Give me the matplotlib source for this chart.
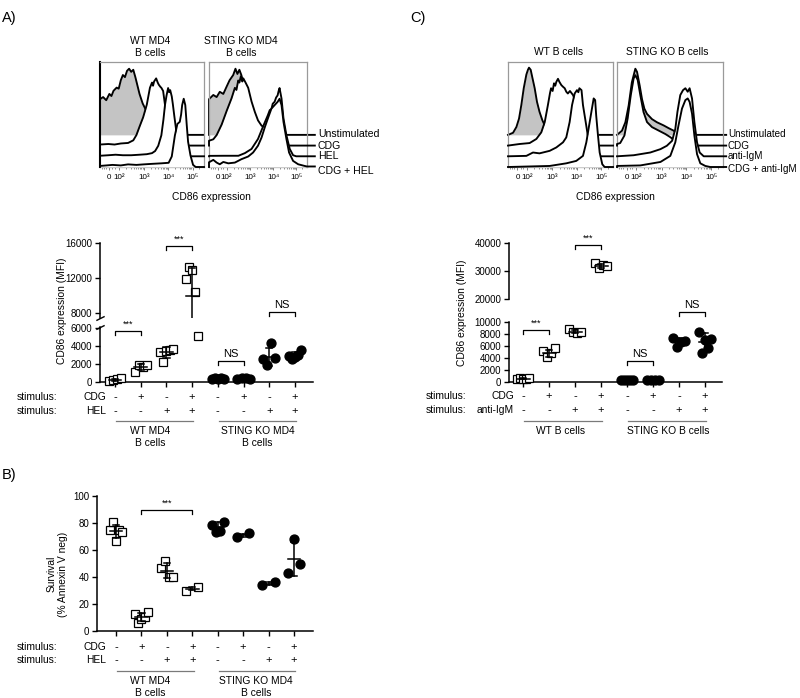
import numpy as np
import matplotlib.pyplot as plt
from matplotlib.transforms import blended_transform_factory

plt.rcParams['font.family'] = ['Liberation Sans', 'DejaVu Sans']

# ---------- flow histograms
# (x in % of box width, height above the curve's own baseline in % of box height)
a_wt_unstim = [(0, 34), (3, 36), (6, 33), (9, 39), (11, 37), (13, 42), (16, 45), (18, 44), (20, 52), (22, 57),
               (24, 55), (26, 61), (28, 63), (30, 60), (32, 62), (34, 55), (36, 47), (38, 39), (41, 30), (44, 24),
               (48, 14), (52, 6), (56, 1), (60, 0), (100, 0)]
a_wt_cdg = [(0, 1), (8, 1.5), (14, 1), (20, 2), (27, 2.5), (32, 5), (35, 10), (38, 18), (41.5, 27), (45, 39),
            (48, 55), (50, 60), (51, 57), (52, 61), (54, 64), (55.5, 60), (56.5, 58), (58, 56), (59, 55),
            (60.7, 52), (63, 35), (65.5, 23), (68, 15), (70, 10), (73.5, 5), (76.7, 2), (80, 0), (100, 0)]
a_wt_hel = [(0, 0.5), (8, 1), (15, 1.5), (22, 1), (30, 1), (38, 1.5), (45, 2), (50, 3), (53, 5), (56, 10),
            (59, 20), (61, 35), (62.5, 49), (64, 58), (65.5, 65), (66.5, 61), (67.5, 63), (69, 57), (70, 50),
            (71.5, 38), (73.5, 23), (75, 13), (76.7, 4), (79, 0.5), (82, 0), (100, 0)]
a_wt_cdghel = [(0, 1), (6, 1.5), (12, 2), (20, 1.5), (27, 2.5), (35, 2), (42, 2.5), (50, 3), (59, 3.5), (66, 4),
               (69, 10), (72, 30), (74.4, 41), (76.7, 43), (78, 50), (79, 59), (80.5, 65), (82, 59), (83.4, 40),
               (84.7, 24), (87, 11), (89.5, 2), (92, 0), (100, 0)]

a_ko_unstim = [(0, 34), (4.4, 38), (7.8, 36), (11, 41), (14.6, 39), (18, 46), (21, 52), (24.7, 57), (27, 63),
               (29, 58), (31, 62), (33, 57), (35, 50), (38, 41), (41, 31), (45, 19), (50, 9), (55, 2), (60, 0),
               (100, 0)]
a_ko_cdg = [(0, 4.6), (4.4, 6), (7.8, 10), (12.9, 20), (18, 33), (23, 45), (26.4, 55), (28, 53), (29.8, 62),
            (31, 60), (32.5, 66), (34, 61), (35, 64), (37.3, 60), (40, 55), (43.4, 42), (46.8, 32), (50, 24),
            (53.6, 19), (57, 17), (62, 12), (67, 6), (74, 2), (80.7, 0), (100, 0)]
a_ko_hel = [(0, 0.4), (15, 0.5), (30, 0.5), (36.6, 3), (43.4, 7), (50, 16.5), (55, 28), (60, 39), (62, 44),
            (63.7, 45), (65, 50), (67, 52), (68.5, 56), (70, 58), (71, 62), (72, 65), (73, 60), (74, 55),
            (76, 36), (79, 20), (82.4, 7), (85.8, 1), (89, 0), (100, 0)]
a_ko_cdghel = [(0, 4.5), (4.4, 6.8), (7.8, 4.2), (11, 2.6), (14.6, 4.8), (19.7, 3.5), (26.4, 4.2), (33, 7.4),
               (40, 10), (45, 13.8), (50, 20.3), (53.6, 28), (57, 38), (60, 46), (63.7, 55.6), (67, 59),
               (70, 62), (72, 65), (74, 59), (76, 43), (79, 26.7), (81.7, 13.8), (85.8, 5.8), (91, 2.6),
               (97.6, 1), (100, 0.5)]

c_wt_unstim = [(0, 0), (4.8, 2), (8, 7.5), (10.5, 15.5), (12.7, 28.5), (15, 44.5), (17.5, 57.5), (19, 62),
               (20, 64), (21.6, 62), (23, 55.5), (25.4, 44.5), (27.6, 31.5), (30, 22), (32.7, 14), (35, 9),
               (36.5, 5), (39.7, 2), (43, 0), (100, 0)]
c_wt_cdg = [(0, 0), (11, 1.5), (20.6, 2.4), (27, 6.3), (31.7, 12.6), (35, 22.4), (38, 38.6), (40, 50),
            (41, 54.6), (42.5, 52), (43.8, 59.3), (45, 57), (46, 60.6), (47.6, 63.6), (49, 60.6), (50.8, 57.6),
            (52.4, 56), (54, 54.6), (55.5, 51.3), (57, 49.6), (59, 52), (62, 48), (65, 40), (68, 25), (72, 8),
            (76, 0), (100, 0)]
c_wt_igm = [(0, 0), (17.5, 0.4), (23.8, 3.6), (30, 2.8), (39.7, 5.2), (46, 8.4), (52.4, 13.3), (55.5, 18),
            (58.7, 32.6), (61, 48.8), (63.5, 59.8), (65.7, 63), (67, 61), (68, 64.8), (70, 63), (71.4, 48.8),
            (74, 32.6), (76, 19.8), (78.4, 6.8), (81, 0.4), (84, 0), (100, 0)]
c_wt_cdgigm = [(0, 0), (20, 0.5), (39.7, 1), (55.5, 3.5), (65, 5.8), (71.4, 10.6), (74.6, 23.5), (77, 38),
               (79.4, 52.4), (81.6, 65.3), (83, 63.7), (84, 49), (85.7, 30), (87.3, 13.8), (89.8, 2.6),
               (92, 0), (100, 0)]

c_ko_unstim = [(0, 0), (4.7, 4), (7.9, 12), (11, 28), (14, 50), (17.3, 63), (18.9, 60), (21.4, 47),
               (23.6, 34), (25.8, 25), (28.3, 20), (33, 15), (37.7, 12), (44, 9), (48.7, 6.4), (53.5, 4),
               (56, 2), (60, 0), (100, 0)]
c_ko_cdg = [(0, 1.5), (3, 2.4), (7, 9.6), (10, 25.6), (13, 48), (15.7, 64), (17.3, 67), (19.5, 62.6),
            (22, 48), (25, 32), (28.3, 22.4), (33, 17.6), (39.3, 14.3), (45.6, 11), (50.3, 8), (56.6, 3),
            (61, 0), (100, 0)]
c_ko_igm = [(0, 0), (15.7, 1), (31.4, 3.6), (41, 6.8), (47, 10), (52, 14.8), (55, 26), (57, 42.2),
            (59.7, 58.3), (62.3, 63), (64.5, 64.8), (66.7, 61.5), (68.5, 64.8), (70.8, 55), (73, 32.6),
            (75.5, 13.3), (78, 3.6), (81.8, 0), (100, 0)]
c_ko_cdgigm = [(0, 1), (22, 1.5), (41, 4.8), (50.3, 10.6), (55, 23.5), (58, 39.5), (61.3, 55.6),
               (64.5, 63.7), (66.7, 65.3), (68.5, 62), (70.8, 50.8), (73, 30), (75.5, 12.2), (78.6, 3.5),
               (83.3, 1), (88, 0), (100, 0)]

decade_ticks = [9, 18, 42, 65.5, 89]
decade_labels = ['0', '10²', '10³', '10⁴', '10⁵']

# ---------- dot plots (groups 1-4 WT, 5-8 STING KO)
a_points = [[150, 250, 330, 400], [1150, 1900, 1700, 1900], [3300, 2200, 3400, 3550, 3700],
            [11850, 13300, 12950, 10400, 5150], [300, 400, 350, 450, 350], [350, 400, 420, 380],
            [2600, 1900, 4300, 2700], [2900, 2600, 2800, 3000, 3600]]
a_mean = [270, 1650, 3300, 10000, 380, 390, 2750, 2950]
a_sd = [110, 350, 600, 3100, 60, 30, 1000, 350]

b_points = [[75, 81, 67, 75, 73], [12.5, 6.2, 8.6, 10.5, 14.3], [47, 52, 40, 40], [30, 32.3],
            [78.5, 73.6, 74.3, 81], [70, 72.3], [34, 36], [42.7, 68, 49.6]]
b_mean = [74, 10.5, 44.7, 31.3, 77, 71, 35, 53.3]
b_sd = [4.8, 3.2, 5.5, 1.2, 3.5, 1.2, 1, 12.8]

c_points = [[500, 600, 450, 550, 650], [5200, 4200, 4800, 5600], [8800, 8400, 8100, 8300],
            [32700, 31000, 32200, 31800], [300, 350, 300, 320, 280], [300, 340, 320, 280],
            [7400, 5800, 6700, 6900], [8400, 4900, 7000, 5600, 7200]]
c_mean = [550, 4800, 8400, 31900, 310, 310, 6700, 6700]
c_sd = [80, 550, 300, 700, 30, 30, 650, 1400]

cdg_row = ['-', '+', '-', '+', '-', '+', '-', '+']
second_row = ['-', '-', '+', '+', '-', '-', '+', '+']

W, H = 800, 698
fig = plt.figure(figsize=(8, 6.98), dpi=100)


def add_ax(x0, y0, x1, y1):
    return fig.add_axes([x0 / W, 1 - y1 / H, (x1 - x0) / W, (y1 - y0) / H])


def ftext(x, y, s, **kw):
    fig.text(x / W, 1 - y / H, s, **kw)


offsets = [30.6, 20.4, 10.2, 0]
minor = []
for a, b in [(18, 42), (42, 65.5), (65.5, 89)]:
    minor += [a + (b - a) * np.log10(k) for k in range(2, 10)]
minor += [2, 4, 6, 12, 14, 95]


def hist_box(x0, x1, curves, ext=100, left_black=False):
    ax = add_ax(x0, 62, x1, 167)
    for i, (curve, base) in enumerate(zip(curves, offsets)):
        xs = [0] + [p[0] for p in curve]
        hs = [0] + [p[1] for p in curve]
        if ext > 100:
            xs.append(ext)
            hs.append(hs[-1])
        ys = [base + h for h in hs]
        ax.fill_between(xs, base, ys, color='#c4c4c4' if i == 0 else 'white', lw=0, zorder=2 * i + 1)
        ax.plot(xs, ys, color='black', lw=1.35, zorder=2 * i + 2, clip_on=False)
    ax.set_xlim(0, 100)
    ax.set_ylim(0, 100)
    for s in ax.spines.values():
        s.set_color('#9a9a9a')
        s.set_linewidth(0.9)
    if left_black:
        ax.spines['left'].set_color('black')
        ax.spines['left'].set_linewidth(1.5)
    ax.set_yticks([])
    ax.set_xticks(decade_ticks)
    ax.set_xticklabels(decade_labels)
    ax.set_xticks(minor, minor=True)
    ax.tick_params(axis='x', which='major', length=2, width=0.6, color='#666', labelsize=5.8, pad=3)
    ax.tick_params(axis='x', which='minor', length=1.2, width=0.5, color='#666')
    return ax


def style_dot(ax, ylim, yticks, xlim, bottom=True):
    ax.set_xlim(*xlim)
    ax.set_ylim(*ylim)
    ax.set_yticks(yticks)
    ax.spines['top'].set_visible(False)
    ax.spines['right'].set_visible(False)
    ax.spines['left'].set_linewidth(1.1)
    if bottom:
        ax.spines['bottom'].set_linewidth(1.1)
        ax.set_xticks(range(1, 9))
        ax.set_xticklabels([])
        ax.tick_params(axis='x', length=3.5, width=1)
    else:
        ax.spines['bottom'].set_visible(False)
        ax.set_xticks([])
    ax.tick_params(axis='y', length=3.5, width=1, labelsize=7, pad=2)


def draw_groups(axes, split, points, means, sds):
    for i, vals in enumerate(points):
        c = i + 1
        offs = np.linspace(-0.24, 0.24, len(vals))
        for v, o in zip(vals, offs):
            ax = axes[0] if (len(axes) == 1 or v <= split) else axes[1]
            if i < 4:
                ax.plot(c + o, v, 's', ms=5.8, mfc='white', mec='black', mew=0.9, clip_on=False, zorder=3)
            else:
                ax.plot(c + o, v, 'o', ms=6.4, mfc='black', mec='black', clip_on=False, zorder=3)
        m, s = means[i], sds[i]
        for ax in axes:
            ax.plot([c - 0.25, c + 0.25], [m, m], color='black', lw=1.1, zorder=4)
            ax.plot([c, c], [m - s, m + s], color='black', lw=1.1, zorder=4)
            ax.plot([c - 0.12, c + 0.12], [m + s, m + s], color='black', lw=1.1, zorder=4)
            ax.plot([c - 0.12, c + 0.12], [m - s, m - s], color='black', lw=1.1, zorder=4)


def bracket(ax, c1, c2, y, label, drop=4):
    d = ax.transData.transform([(c1, y)])[0]
    y_low = ax.transData.inverted().transform([(d[0], d[1] - drop)])[0][1]
    ax.plot([c1, c1, c2, c2], [y_low, y, y, y_low], color='black', lw=0.9, clip_on=False)
    ax.annotate(label, xy=((c1 + c2) / 2, y), xytext=(0, 1.5), textcoords='offset points',
                ha='center', va='bottom', fontsize=6.5 if label == '***' else 8, annotation_clip=False)


def stim_rows(ax, y1, y2, xlab, xname, name2, line_y, labels, label_x, label_y):
    tr = blended_transform_factory(ax.transData, fig.transFigure)
    ftext(xlab, y1, 'stimulus:', fontsize=7.4, va='center')
    ftext(xlab, y2, 'stimulus:', fontsize=7.4, va='center')
    ftext(xname, y1, 'CDG', fontsize=7.4, va='center', ha='right')
    ftext(xname, y2, name2, fontsize=7.4, va='center', ha='right')
    for i in range(8):
        ax.text(i + 1, 1 - y1 / H, cdg_row[i], transform=tr, ha='center', va='center', fontsize=8)
        ax.text(i + 1, 1 - y2 / H, second_row[i], transform=tr, ha='center', va='center', fontsize=8)
    for (c1, c2), lab, lx in zip([(1.05, 4.05), (5.05, 8.05)], labels, label_x):
        ax.plot([c1, c2], [1 - line_y / H] * 2, transform=tr, color='#7a7a7a', lw=0.9, clip_on=False)
        ax.text(lx, 1 - label_y / H, lab, transform=tr, ha='center', va='top', fontsize=7.4, linespacing=1.2)


# ---------- panel A histograms
hist_box(100, 204, [a_wt_unstim, a_wt_cdg, a_wt_hel, a_wt_cdghel], left_black=True)
axr = hist_box(209, 307, [a_ko_unstim, a_ko_cdg, a_ko_hel, a_ko_cdghel], ext=108)
for lab, yy in zip(['Unstimulated', 'CDG', 'HEL', 'CDG + HEL'], [31, 20.4, 10.2, -4]):
    axr.text(111, yy, lab, fontsize=7.6, va='center', clip_on=False)
ftext(150, 47, 'WT MD4\nB cells', fontsize=7.4, ha='center', va='center', linespacing=1.2)
ftext(241, 47, 'STING KO MD4\nB cells', fontsize=7.4, ha='center', va='center', linespacing=1.2)
ftext(211, 197, 'CD86 expression', fontsize=7.4, ha='center', va='center')

# ---------- panel C histograms
hist_box(508, 613, [c_wt_unstim, c_wt_cdg, c_wt_igm, c_wt_cdgigm])
axr = hist_box(617, 723, [c_ko_unstim, c_ko_cdg, c_ko_igm, c_ko_cdgigm], ext=103)
for lab, yy in zip(['Unstimulated', 'CDG', 'anti-IgM', 'CDG + anti-IgM'], [31, 20.4, 10.2, -2]):
    axr.text(104.5, yy, lab, fontsize=7.1, va='center', clip_on=False)
ftext(559, 52, 'WT B cells', fontsize=7.4, ha='center', va='center')
ftext(667, 52, 'STING KO B cells', fontsize=7.4, ha='center', va='center')
ftext(615, 197, 'CD86 expression', fontsize=7.4, ha='center', va='center')

# ---------- panel A dot plot (broken axis)
a_xlim = (0.416, 8.70)
a_hi = add_ax(100, 243, 313, 318)
a_lo = add_ax(100, 327, 313, 382)
style_dot(a_hi, (7430, 16000), [8000, 12000, 16000], a_xlim, bottom=False)
style_dot(a_lo, (0, 6100), [0, 2000, 4000, 6000], a_xlim)
draw_groups([a_lo, a_hi], 7000, a_points, a_mean, a_sd)
brk = dict(marker=[(-1, -0.5), (1, 0.5)], markersize=6, linestyle='none', color='k', mec='k', mew=1, clip_on=False)
a_hi.plot([0], [0], transform=a_hi.transAxes, **brk)
a_lo.plot([0], [1], transform=a_lo.transAxes, **brk)
bracket(a_lo, 1, 2, 5700, '***')
bracket(a_hi, 3, 4, 15650, '***')
bracket(a_lo, 5, 6, 2330, 'NS')
bracket(a_hi, 7, 8, 8080, 'NS')
ftext(62, 311, 'CD86 expression (MFI)', fontsize=7.4, rotation=90, ha='center', va='center')
stim_rows(a_lo, 397, 411, 17, 106, 'HEL', 421, ['WT MD4\nB cells', 'STING KO MD4\nB cells'], [2.36, 6.55], 426)

# ---------- panel C dot plot (broken axis)
c_xlim = (0.46, 8.65)
c_hi = add_ax(509, 243, 722, 299)
c_lo = add_ax(509, 322, 722, 382)
style_dot(c_hi, (20000, 40000), [20000, 30000, 40000], c_xlim, bottom=False)
style_dot(c_lo, (0, 10000), [0, 2000, 4000, 6000, 8000, 10000], c_xlim)
draw_groups([c_lo, c_hi], 15000, c_points, c_mean, c_sd)
bracket(c_lo, 1, 2, 8670, '***')
bracket(c_hi, 3, 4, 39300, '***')
bracket(c_lo, 5, 6, 3500, 'NS')
bracket(c_lo, 7, 8, 11620, 'NS')
ftext(462, 313, 'CD86 expression (MFI)', fontsize=7.4, rotation=90, ha='center', va='center')
stim_rows(c_lo, 396, 410, 426, 514, 'anti-IgM', 421, ['WT B cells', 'STING KO B cells'], [2.45, 6.6], 426)

# ---------- panel B dot plot
b_ax = add_ax(97, 496, 313, 631)
style_dot(b_ax, (0, 100), [0, 20, 40, 60, 80, 100], (0.25, 8.75))
draw_groups([b_ax], 1000, b_points, b_mean, b_sd)
bracket(b_ax, 2, 4, 89.6, '***')
ftext(57, 574, 'Survival\n(% Annexin V neg)', fontsize=7.4, rotation=90, ha='center', va='center',
      multialignment='center', linespacing=1.2)
stim_rows(b_ax, 647, 660, 17, 106, 'HEL', 671, ['WT MD4\nB cells', 'STING KO MD4\nB cells'], [2.36, 6.5], 676)

# ---------- panel letters
ftext(2, 18, 'A)', fontsize=10.5, va='center')
ftext(410, 18, 'C)', fontsize=10.5, va='center')
ftext(2, 475, 'B)', fontsize=10.5, va='center')

fig.savefig('out.png', dpi=100)
